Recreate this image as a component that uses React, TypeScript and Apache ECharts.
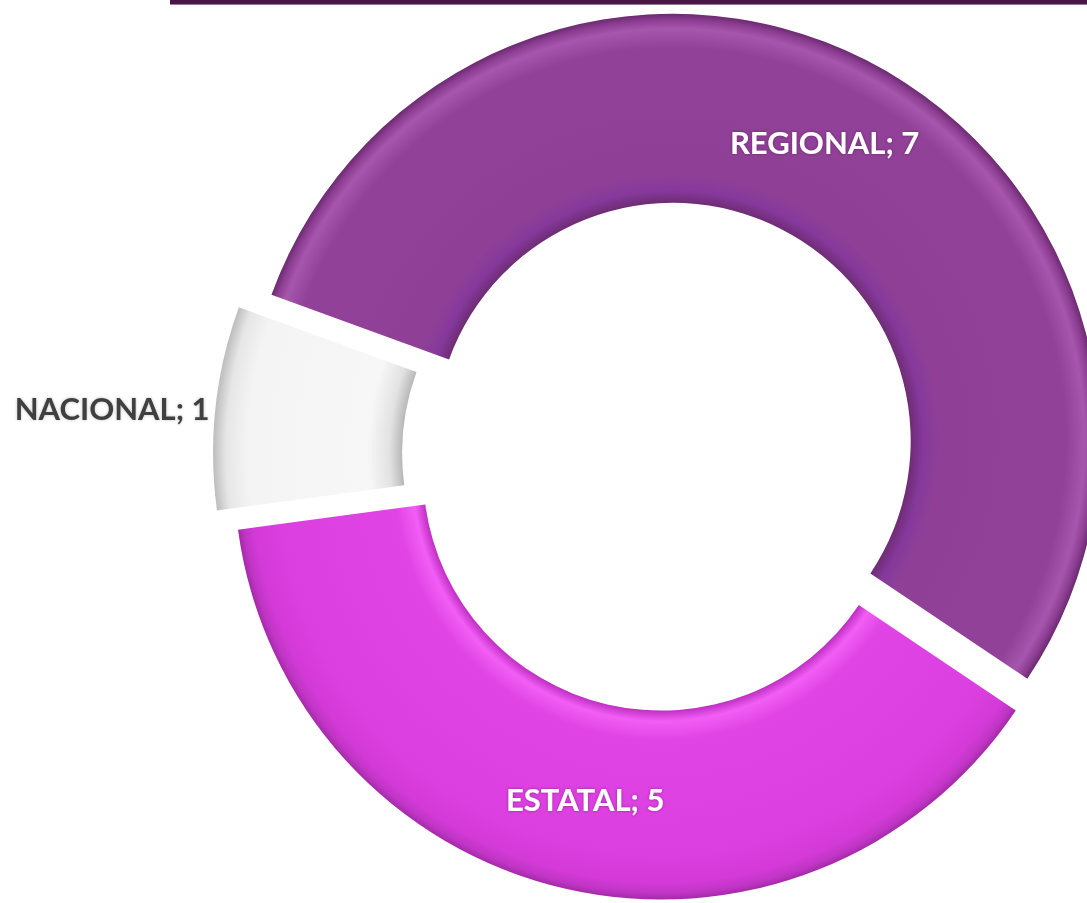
import React, { useEffect, useRef } from 'react';
import * as echarts from 'echarts';

// ---- data ----
const categories: string[] = ['REGIONAL', 'ESTATAL', 'NACIONAL'];
const values: number[] = [7, 5, 1];

// ---- layout / style ----
const CX = 665;
const CY = 456;
const R_IN = 238;
const R_OUT = 427;
const EXPLODE = 17;
const EXPLODE_SMALL = 25;
const IN_F = R_IN / R_OUT;

type Stop = [number, string];
const ring = (stops: Stop[]) => ({
  type: 'radial',
  x: CX,
  y: CY,
  r: R_OUT,
  global: true,
  colorStops: stops.map(([o, c]) => ({ offset: o, color: c })),
});

const fills = [
  ring([
    [IN_F, '#6f2c75'],
    [IN_F + 0.03, '#86399c'],
    [IN_F + 0.07, '#8f4096'],
    [0.92, '#924198'],
    [0.965, '#a756ae'],
    [0.985, '#8d3f93'],
    [1, '#6c2a70'],
  ]),
  ring([
    [IN_F, '#c02fc4'],
    [IN_F + 0.025, '#f25ef5'],
    [IN_F + 0.07, '#e044e4'],
    [0.9, '#db3fdf'],
    [0.96, '#d43ad8'],
    [0.985, '#c035c5'],
    [1, '#a52aa9'],
  ]),
  ring([
    [IN_F, '#b8b8b8'],
    [IN_F + 0.03, '#e2e2e2'],
    [IN_F + 0.08, '#f7f7f7'],
    [0.92, '#f4f4f4'],
    [0.97, '#e6e6e6'],
    [1, '#bdbdbd'],
  ]),
];

const labelColors = ['#ffffff', '#ffffff', '#404040'];
const labelPositions = ['inside', 'inside', 'outside'];
// which series draws each slice (0 = main ring, 1 = more exploded small slice)
const sliceLayer = [0, 0, 1];

export default function App() {
  const ref = useRef<HTMLDivElement>(null);

  useEffect(() => {
    if (!ref.current) return;
    const chart = echarts.init(ref.current, undefined, { renderer: 'svg' });
    const makeData = (layer: number) =>
      categories.map((name, i) => {
        const visible = sliceLayer[i] === layer;
        return {
          name,
          value: values[i],
          selected: true,
          itemStyle: visible
            ? { color: fills[i] as any }
            : { color: 'rgba(0,0,0,0)', opacity: 0 },
          label: visible
            ? {
                show: true,
                position: labelPositions[i] as any,
                color: labelColors[i],
                textShadowColor: i < 2 ? 'rgba(60,0,60,0.45)' : 'rgba(0,0,0,0.25)',
                textShadowBlur: 3,
              }
            : { show: false },
        };
      });
    const baseSeries = {
      type: 'pie',
      center: [CX, CY],
      radius: [R_IN, R_OUT],
      startAngle: 160,
      clockwise: true,
      selectedMode: 'multiple',
      avoidLabelOverlap: false,
      emphasis: { disabled: true },
      label: {
        show: true,
        formatter: '{b}; {c}',
        fontFamily: 'Lato',
        fontWeight: 'bold',
        fontSize: 31,
        distanceToLabelLine: 6,
      },
      labelLine: { show: false, length: 0, length2: 0 },
      itemStyle: { borderWidth: 0 },
    };
    chart.setOption({
      animation: false,
      backgroundColor: '#ffffff',
      graphic: [
        { type: 'rect', shape: { x: 170, y: 0, width: 917, height: 4 }, style: { fill: '#4a1648' } },
        { type: 'rect', shape: { x: 170, y: 4, width: 917, height: 1 }, style: { fill: '#9a7a98' } },
      ],
      series: [
        { ...baseSeries, name: 'main', selectedOffset: EXPLODE, data: makeData(0) },
        { ...baseSeries, name: 'small', selectedOffset: EXPLODE_SMALL, data: makeData(1) },
      ],
    });
    return () => chart.dispose();
  }, []);

  return (
    <div
      ref={ref}
      style={{ position: 'absolute', left: 0, top: 0, width: 1087, height: 903 }}
    />
  );
}
